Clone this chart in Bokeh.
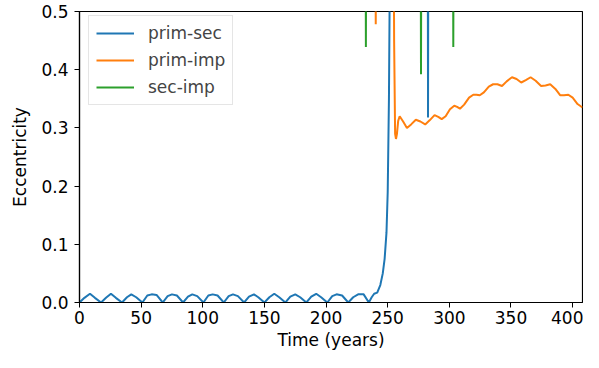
from bokeh.plotting import figure
from bokeh.models import FixedTicker, PrintfTickFormatter, Legend, LegendItem
from bokeh.embed import file_html
from bokeh.resources import INLINE

# ---- data (values above 0.5 lie outside the plotted range) ----
t_prim_sec = [0, 4, 8.5, 12.5, 17.5,
              21.5, 25.5, 29.5, 34.5,
              38.5, 42, 46, 51,
              55, 58.5, 62.5, 67.5,
              71.5, 75, 79, 84,
              88, 91.5, 95.5, 100.5,
              104.5, 108, 112, 117,
              121, 124.5, 128.5, 133.5,
              137.5, 141.5, 145, 150,
              154, 158, 162, 167,
              171, 175, 179, 184,
              188, 192, 196, 201,
              205, 208.5, 213, 218,
              222, 226, 230.5, 234.7,
              237, 239, 241.5, 244, 246, 247.5, 249, 250, 251, 252, 253,
              282.3, 282.7, 283.1, 408]
e_prim_sec = [0.0, 0.008, 0.015, 0.008, 0.0,
              0.008, 0.015, 0.008, 0.0,
              0.009, 0.014, 0.009, 0.0,
              0.012, 0.014, 0.013, 0.0,
              0.011, 0.014, 0.012, 0.0,
              0.010, 0.014, 0.011, 0.0,
              0.012, 0.014, 0.012, 0.0,
              0.011, 0.014, 0.011, 0.0,
              0.010, 0.014, 0.009, 0.0,
              0.009, 0.015, 0.009, 0.0,
              0.010, 0.014, 0.009, 0.0,
              0.010, 0.015, 0.009, 0.0,
              0.011, 0.014, 0.012, 0.0,
              0.009, 0.014, 0.014, 0.0,
              0.009, 0.015, 0.017, 0.030, 0.050, 0.075, 0.120, 0.190, 0.350, 0.650, 0.900,
              0.900, 0.318, 0.900, 0.900]

t_prim_imp = [0, 239.7, 240.3, 240.9, 254.4, 255.2, 256.0, 256.7, 257.5, 258.5,
              259.7, 262.5, 265.6, 269, 272.8, 276.5, 280.4, 284, 288, 291,
              293.8, 297, 300.5, 304, 306.3, 308.6, 312, 316, 319.4, 322,
              324.7, 328, 332, 335.5, 339, 342.7, 346.5, 350.8, 354.5, 358.3,
              362, 365.9, 370, 374.4, 378, 381.8, 386, 390, 393, 396.5,
              400, 404, 408]
e_prim_imp = [0.900, 0.900, 0.478, 0.900, 0.900, 0.450, 0.290, 0.281, 0.290, 0.312,
              0.320, 0.311, 0.300, 0.306, 0.314, 0.311, 0.306, 0.313, 0.322, 0.319,
              0.315, 0.320, 0.332, 0.338, 0.336, 0.333, 0.340, 0.352, 0.357, 0.357,
              0.356, 0.361, 0.371, 0.375, 0.375, 0.372, 0.380, 0.387, 0.384, 0.378,
              0.382, 0.387, 0.381, 0.372, 0.373, 0.375, 0.367, 0.356, 0.356, 0.357,
              0.352, 0.341, 0.335]

t_sec_imp = [0, 231.8, 232.3, 232.8, 276.5, 277.0, 277.5, 302.7, 303.2, 303.7, 408]
e_sec_imp = [0.9, 0.9, 0.439, 0.9, 0.9, 0.392, 0.9, 0.9, 0.439, 0.9, 0.9]

x_ticks = [0, 50, 100, 150, 200, 250, 300, 350, 400]
y_ticks = [0.0, 0.1, 0.2, 0.3, 0.4, 0.5]

FONT = "DejaVu Sans"
FS = "17px"

p = figure(width=583, height=352, x_range=(0, 408), y_range=(0, 0.5),
           output_backend="svg", toolbar_location=None,
           min_border_left=79, min_border_right=1, min_border_top=11,
           min_border_bottom=50)

r1 = p.line(t_prim_sec, e_prim_sec, line_color="#1f77b4", line_width=2)
r2 = p.line(t_prim_imp, e_prim_imp, line_color="#ff7f0e", line_width=2)
r3 = p.line(t_sec_imp, e_sec_imp, line_color="#2ca02c", line_width=2)

p.xgrid.visible = False
p.ygrid.visible = False
p.outline_line_color = "black"
p.outline_line_width = 1.2
p.outline_line_alpha = 1.0
p.background_fill_color = "white"
p.border_fill_color = "white"

p.xaxis.ticker = FixedTicker(ticks=x_ticks)
p.yaxis.ticker = FixedTicker(ticks=y_ticks)
p.yaxis.formatter = PrintfTickFormatter(format="%.1f")
p.xaxis.axis_label = "Time (years)"
p.yaxis.axis_label = "Eccentricity"
for ax in (p.xaxis, p.yaxis):
    ax.axis_label_text_font = FONT
    ax.axis_label_text_font_size = FS
    ax.axis_label_text_font_style = "normal"
    ax.axis_label_text_color = "black"
    ax.major_label_text_font = FONT
    ax.major_label_text_font_size = FS
    ax.major_label_text_color = "black"
    ax.minor_tick_line_color = None
    ax.major_tick_in = 0
    ax.major_tick_out = 5
    ax.major_tick_line_color = "black"
    ax.axis_line_color = "black"
    ax.axis_line_width = 1.2
p.yaxis.major_label_standoff = 6
p.yaxis.axis_label_standoff = 8
p.xaxis.major_label_standoff = 3
p.xaxis.axis_label_standoff = 3

legend = Legend(items=[LegendItem(label="prim-sec", renderers=[r1]),
                       LegendItem(label="prim-imp", renderers=[r2]),
                       LegendItem(label="sec-imp", renderers=[r3])],
                location=(9, 197))
legend.label_text_font = FONT
legend.label_text_font_size = FS
legend.glyph_width = 38
legend.label_standoff = 14
legend.spacing = 7
legend.padding = 7
legend.margin = 0
legend.border_line_color = "#cccccc"
legend.border_line_width = 1
legend.background_fill_alpha = 0.8
p.add_layout(legend)

open("out.html", "w").write(file_html(p, INLINE))
